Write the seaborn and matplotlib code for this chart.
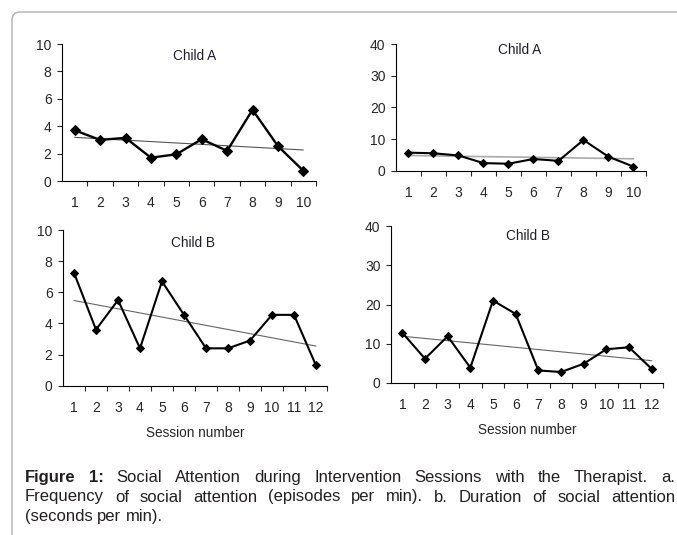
import numpy as np
import matplotlib
matplotlib.use('Agg')
import matplotlib.pyplot as plt
import seaborn as sns
from matplotlib.patches import FancyBboxPatch

# Dados
sessions_a = [1, 2, 3, 4, 5, 6, 7, 8, 9, 10]
sessions_b = [1, 2, 3, 4, 5, 6, 7, 8, 9, 10, 11, 12]
freq_a = [3.7, 3.0, 3.15, 1.7, 1.95, 3.05, 2.2, 5.2, 2.55, 0.75]
dur_a = [5.7, 5.5, 4.8, 2.4, 2.2, 3.7, 3.1, 9.7, 4.4, 1.3]
freq_b = [7.25, 3.6, 5.5, 2.4, 6.7, 4.55, 2.4, 2.4, 2.9, 4.55, 4.55, 1.3]
dur_b = [12.8, 6.2, 11.9, 3.9, 21.0, 17.6, 3.2, 2.8, 4.9, 8.6, 9.1, 3.6]

caption_bold = 'Figure 1:'
caption_lines = [
    'Social Attention during Intervention Sessions with the Therapist. a.',
    'Frequency of social attention (episodes per min). b. Duration of social attention',
    '(seconds per min).',
]

sns.set_style('ticks')
plt.rcParams['font.family'] = ['Liberation Sans', 'DejaVu Sans']

W, H = 677, 535
fig = plt.figure(figsize=(W / 100, H / 100), dpi=100)


def px_axes(x0, x1, y0, y1):
    # x0,x1 esquerda/direita; y0 = base (px desde o topo), y1 = topo
    return fig.add_axes([x0 / W, 1 - y0 / H, (x1 - x0) / W, (y0 - y1) / H])


panels = [
    dict(box=(62, 316, 181, 44), x=sessions_a, y=freq_a, ymax=10, step=2,
         title='Child A', tpos=(0.524, 0.91), ms=5.2, lw=1.7, trend='#555555', tlw=0.8, xlabel=None),
    dict(box=(396, 646, 170.7, 44), x=sessions_a, y=dur_a, ymax=40, step=10,
         title='Child A', tpos=(0.496, 0.955), ms=4.0, lw=1.5, trend='#aaaaaa', tlw=1.2, xlabel=None),
    dict(box=(63, 327, 385.7, 230), x=sessions_b, y=freq_b, ymax=10, step=2,
         title='Child B', tpos=(0.492, 0.915), ms=4.0, lw=1.5, trend='#666666', tlw=0.8,
         xlabel='Session number'),
    dict(box=(391, 663, 383, 226), x=sessions_b, y=dur_b, ymax=40, step=10,
         title='Child B', tpos=(0.504, 0.935), ms=4.0, lw=1.5, trend='#666666', tlw=0.8,
         xlabel='Session number'),
]

for p in panels:
    ax = px_axes(*p['box'])
    n = len(p['x'])
    sns.regplot(x=np.array(p['x'], dtype=float), y=np.array(p['y']), ax=ax, scatter=False, ci=None,
                color=p['trend'], line_kws=dict(linewidth=p['tlw']))
    sns.lineplot(x=p['x'], y=p['y'], ax=ax, color='black', marker='D', markersize=p['ms'],
                 linewidth=p['lw'], markeredgecolor='black')
    ax.set_xlim(0.5, n + 0.5)
    ax.set_ylim(0, p['ymax'])
    ax.set_yticks(np.arange(0, p['ymax'] + 1, p['step']))
    ax.set_xticks(p['x'])
    ax.set_xticks(np.arange(1.5, n + 0.6, 1), minor=True)
    ax.tick_params(axis='x', which='major', length=0, pad=11, labelsize=10)
    ax.tick_params(axis='x', which='minor', length=3.5, width=0.8, direction='out')
    ax.tick_params(axis='y', length=3.5, width=0.8, pad=4, labelsize=10)
    sns.despine(ax=ax)
    for s in ['left', 'bottom']:
        ax.spines[s].set_linewidth(0.8)
        ax.spines[s].set_color('black')
    ax.set_xlabel(p['xlabel'] if p['xlabel'] else '', fontsize=9.8, labelpad=8)
    ax.set_ylabel('')
    ax.text(p['tpos'][0], p['tpos'][1], p['title'], transform=ax.transAxes, ha='center',
            va='center', fontsize=9.8, color='#1e1e2a')

# Moldura cinza com canto arredondado
frame = FancyBboxPatch((0.12, -0.5), 8.0, 5.35 - 0.12 + 0.5,
                       boxstyle='round,pad=0,rounding_size=0.08',
                       transform=fig.dpi_scale_trans, fill=False,
                       edgecolor='#b0b0b0', linewidth=1.0)
fig.add_artist(frame)

# Legenda justificada
renderer = fig.canvas.get_renderer()
cap_size = 12
left_px, right_px = 25, 675
line_y = [482, 501.5, 521]


def text_width(s, weight='normal'):
    t = fig.text(0, 0, s, fontsize=cap_size, fontweight=weight)
    w = t.get_window_extent(renderer).width
    t.remove()
    return w


for i, line in enumerate(caption_lines):
    words = [(w, 'normal') for w in line.split(' ')]
    if i == 0:
        words = [(w, 'bold') for w in caption_bold.split(' ')] + words
    widths = [text_width(w, wt) for w, wt in words]
    if i < len(caption_lines) - 1:
        gap = (right_px - left_px - sum(widths)) / (len(words) - 1)
    else:
        gap = text_width('a b') - text_width('ab')
    x = left_px
    for (w, wt), wd in zip(words, widths):
        fig.text(x / W, 1 - line_y[i] / H, w, fontsize=cap_size, fontweight=wt,
                 va='baseline', ha='left', color='#231f20')
        x += wd + gap

fig.savefig('out.png', dpi=100)
print('ok')
